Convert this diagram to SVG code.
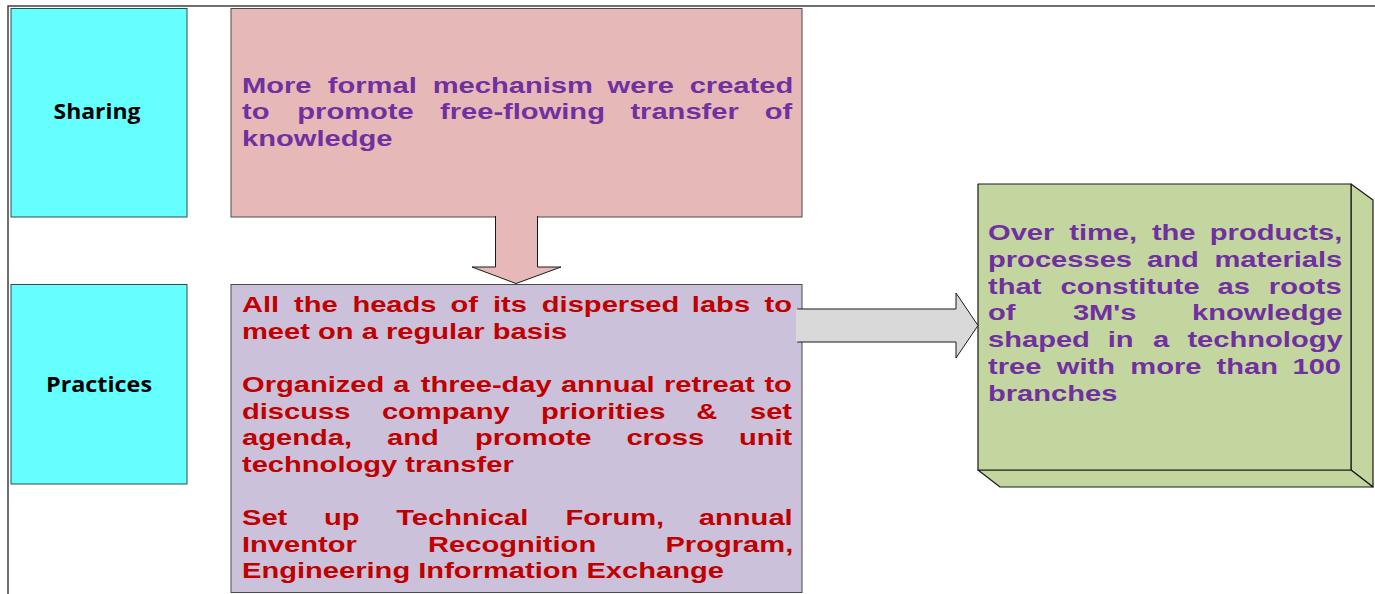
<svg xmlns="http://www.w3.org/2000/svg" width="1375" height="594" viewBox="0 0 1375 594">
<style>
.frame{fill:none;stroke:#404040;stroke-width:1.5}
.cyan{fill:#66FFFF;stroke:#2F4F4F;stroke-width:1}
.pink{fill:#E6B9B8;stroke:#4A4A4A;stroke-width:1}
.lav{fill:#CCC1DA;stroke:#4A4A4A;stroke-width:1}
.green{fill:#C4D6A0;stroke:#1A1A1A;stroke-width:1.2;stroke-linejoin:round}
.lbl{font-family:"Open Sans","Liberation Sans",sans-serif;font-weight:bold;font-size:22px;fill:#000;text-anchor:middle}
.body{font-family:"Liberation Sans",Arial,sans-serif;font-weight:bold;font-size:22.4px}
.pur{fill:#7030A0}
.red{fill:#C00000}
</style>
<rect width="1375" height="594" fill="#fff"/>
<path class="frame" d="M8,594 V6 H1375"/>

<g id="sharing">
<rect class="cyan" x="11" y="8.5" width="176" height="208.5"/>
<text class="lbl" x="97" y="119" textLength="87" lengthAdjust="spacingAndGlyphs">Sharing</text>
</g>

<g id="practices">
<rect class="cyan" x="11" y="284.5" width="176" height="199.5"/>
<text class="lbl" x="99" y="392" textLength="106" lengthAdjust="spacingAndGlyphs">Practices</text>
</g>

<g id="mechanism">
<rect class="pink" x="231" y="8.5" width="571" height="208.5"/>
<g transform="scale(1.3,1)" class="body pur">
<text y="93"><tspan x="186.15">More</tspan><tspan x="252.15">formal</tspan><tspan x="332.85">mechanism</tspan><tspan x="467.38">were</tspan><tspan x="530.5">created</tspan></text>
<text y="119.5"><tspan x="186.15">to</tspan><tspan x="228.69">promote</tspan><tspan x="338.46">free-flowing</tspan><tspan x="484.92">transfer</tspan><tspan x="588.2">of</tspan></text>
<text y="146" x="186.15">knowledge</text>
</g>
</g>

<g id="practices-detail">
<rect class="lav" x="231" y="284.5" width="571" height="308"/>
<g transform="scale(1.3,1)" class="body red">
<text y="312"><tspan x="186.15">All</tspan><tspan x="226.15">the</tspan><tspan x="271.08">heads</tspan><tspan x="346.54">of</tspan><tspan x="379.23">its</tspan><tspan x="416.77">dispersed</tspan><tspan x="532.2">labs</tspan><tspan x="588.1">to</tspan></text>
<text y="338.6" x="186.15">meet on a regular basis</text>
<text y="392"><tspan x="186.15">Organized</tspan><tspan x="302.54">a</tspan><tspan x="323.62">three-day</tspan><tspan x="431.46">annual</tspan><tspan x="510.8">retreat</tspan><tspan x="588.0">to</tspan></text>
<text y="418.6"><tspan x="186.15">discuss</tspan><tspan x="293.77">company</tspan><tspan x="416.08">priorities</tspan><tspan x="535.6">&amp;</tspan><tspan x="576.9">set</tspan></text>
<text y="445.2"><tspan x="186.15">agenda,</tspan><tspan x="297.77">and</tspan><tspan x="365.38">promote</tspan><tspan x="481.85">cross</tspan><tspan x="568.4">unit</tspan></text>
<text y="471.8" x="186.15">technology transfer</text>
<text y="525.5"><tspan x="186.15">Set</tspan><tspan x="249.15">up</tspan><tspan x="304.77">Technical</tspan><tspan x="435.0">Forum,</tspan><tspan x="537.6">annual</tspan></text>
<text y="552"><tspan x="186.15">Inventor</tspan><tspan x="329.23">Recognition</tspan><tspan x="511.9">Program,</tspan></text>
<text y="578.5" x="186.15">Engineering Information Exchange</text>
</g>
</g>

<g id="outcome">
<path class="green" d="M1351,184 L1373,200 L1373,487 L1351,470 Z"/>
<path class="green" d="M978,470 L1351,470 L1373,487 L1000,487 Z"/>
<rect class="green" x="978" y="184" width="373" height="286"/>
<g transform="scale(1.3,1)" class="body pur">
<text y="240"><tspan x="760">Over</tspan><tspan x="822.46">time,</tspan><tspan x="886.08">the</tspan><tspan x="930.6">products,</tspan></text>
<text y="266.8"><tspan x="760">processes</tspan><tspan x="882.31">and</tspan><tspan x="934.2">materials</tspan></text>
<text y="293.6"><tspan x="760">that</tspan><tspan x="815.85">constitute</tspan><tspan x="936.54">as</tspan><tspan x="976.0">roots</tspan></text>
<text y="320.4"><tspan x="760">of</tspan><tspan x="825.31">3M's</tspan><tspan x="917.0">knowledge</tspan></text>
<text y="347.2"><tspan x="760">shaped</tspan><tspan x="852.15">in</tspan><tspan x="886.85">a</tspan><tspan x="913.4">technology</tspan></text>
<text y="374"><tspan x="760">tree</tspan><tspan x="812.92">with</tspan><tspan x="869.46">more</tspan><tspan x="935.77">than</tspan><tspan x="994.2">100</tspan></text>
<text y="400.8" x="760">branches</text>
</g>
</g>

<g id="connectors">
<path d="M495.5,216 V267 H472 L516,283.5 L561,267 H537.5 V216" fill="#E6B9B8" stroke="#1A1A1A" stroke-width="1" stroke-linejoin="miter"/>
<path d="M797,309 H956 V293 L978,325.5 L956,358 V342 H797" fill="#D9D9D9" stroke="#1A1A1A" stroke-width="1"/>
<rect x="796" y="309.7" width="3" height="31.6" fill="#D9D9D9"/>
</g>
</svg>
